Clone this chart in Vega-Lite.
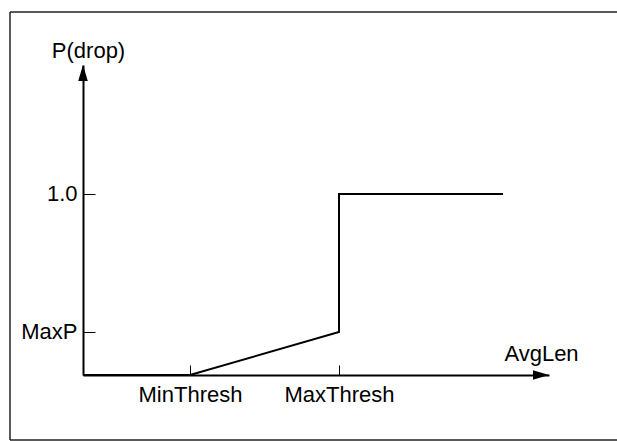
{
  "$schema": "https://vega.github.io/schema/vega-lite/v6.json",
  "width": 466,
  "height": 310,
  "autosize": "none",
  "padding": {"left": 83, "top": 65, "right": 68, "bottom": 66},
  "background": "white",
  "config": {
    "view": {"stroke": null},
    "font": "Liberation Sans",
    "axis": {"labelFont": "Liberation Sans", "titleFont": "Liberation Sans", "labelColor": "black", "titleColor": "black", "labelFontSize": 22, "titleFontSize": 22, "titleFontWeight": "normal", "domainColor": "black", "domainWidth": 2, "tickColor": "black", "tickWidth": 1, "grid": false}
  },
  "datasets": {
    "curve": [
      {"i": 0, "len": 0, "p": 0},
      {"i": 1, "len": 107, "p": 0},
      {"i": 2, "len": 256, "p": 0.2376},
      {"i": 3, "len": 256, "p": 1.0},
      {"i": 4, "len": 420, "p": 1.0}
    ],
    "frame": [
      {"x1": -73, "x2": 700, "y1": 2.0055, "y2": 2.0055},
      {"x1": -73, "x2": -73, "y1": -0.359, "y2": 2.0055},
      {"x1": -73, "x2": 700, "y1": -0.359, "y2": -0.359}
    ],
    "xarrow": [{"len": 466, "p": 0}],
    "yarrow": [{"len": 0, "p": 1.7127}]
  },
  "layer": [
    {
      "data": {"name": "curve"},
      "mark": {"type": "line", "color": "black", "strokeWidth": 2},
      "encoding": {
        "x": {
          "field": "len", "type": "quantitative",
          "scale": {"domain": [0, 466], "nice": false, "zero": false},
          "axis": {
            "values": [107, 256],
            "labelExpr": "datum.value == 107 ? 'MinThresh' : 'MaxThresh'",
            "tickSize": -10,
            "labelPadding": 36.7,
            "labelBaseline": "alphabetic",
            "labelFlush": false,
            "labelOverlap": false,
            "title": "AvgLen",
            "titleX": 458,
            "titleY": -22,
            "titleAlign": "center",
            "titleBaseline": "middle",
            "titleAnchor": null
          }
        },
        "y": {
          "field": "p", "type": "quantitative",
          "scale": {"domain": [0, 1.7127], "nice": false, "zero": false},
          "axis": {
            "values": [0.2376, 1.0],
            "labelExpr": "datum.value == 1 ? '1.0' : 'MaxP'",
            "tickSize": -12,
            "labelPadding": 18,
            "labelFlush": false,
            "labelOverlap": false,
            "title": "P(drop)",
            "titleAngle": 0,
            "titleX": 5,
            "titleY": -15,
            "titleAlign": "center",
            "titleBaseline": "middle",
            "titleAnchor": null
          }
        },
        "order": {"field": "i", "type": "quantitative"}
      }
    },
    {
      "data": {"name": "frame"},
      "mark": {"type": "rule", "color": "#222222", "strokeWidth": 1.5},
      "encoding": {
        "x": {"field": "x1", "type": "quantitative"},
        "x2": {"field": "x2"},
        "y": {"field": "y1", "type": "quantitative"},
        "y2": {"field": "y2"}
      }
    },
    {
      "data": {"name": "xarrow"},
      "mark": {"type": "point", "shape": "M 0 0 L -2 -0.6 L -2 0.6 Z", "size": 256, "filled": true, "color": "black", "opacity": 1},
      "encoding": {
        "x": {"field": "len", "type": "quantitative"},
        "y": {"field": "p", "type": "quantitative"}
      }
    },
    {
      "data": {"name": "yarrow"},
      "mark": {"type": "point", "shape": "M 0 0 L -0.6 2 L 0.6 2 Z", "size": 256, "filled": true, "color": "black", "opacity": 1},
      "encoding": {
        "x": {"field": "len", "type": "quantitative"},
        "y": {"field": "p", "type": "quantitative"}
      }
    }
  ]
}
